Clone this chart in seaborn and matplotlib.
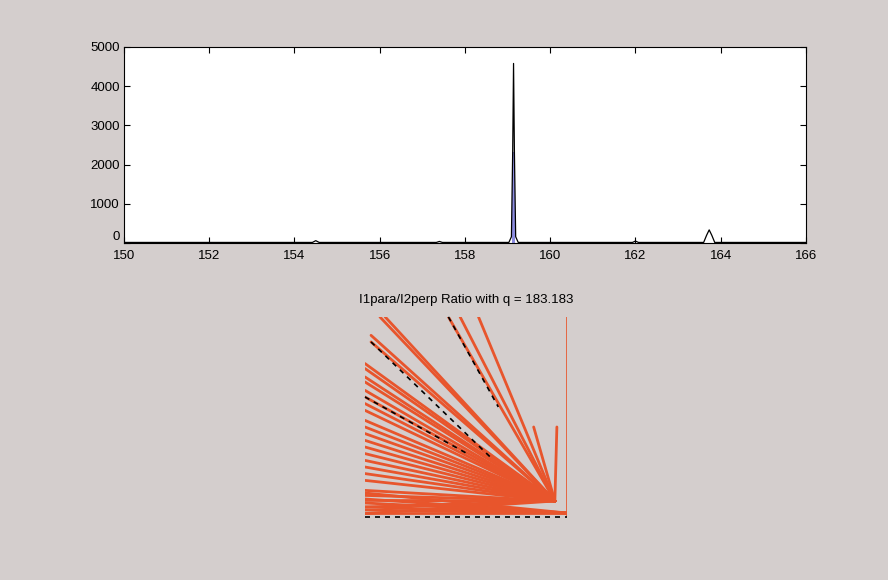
import numpy as np
import pandas as pd
import matplotlib
matplotlib.use("Agg")
import matplotlib.pyplot as plt
import seaborn as sns

# ---- data: spectrum (top panel) ----
spec_x = [150.0, 154.42, 154.5, 154.58, 157.33, 157.4, 157.47, 159.03, 159.09,
          159.12, 159.14, 159.16, 159.19, 159.25, 161.93, 162.0, 162.07,
          163.60, 163.67, 163.73, 163.79, 163.86, 166.0]
spec_y = [15, 15, 60, 15, 15, 40, 15, 15, 160,
          2330, 4580, 2330, 160, 15, 15, 50, 15,
          15, 200, 335, 200, 15, 15]
blue_x = [159.10, 159.18]
blue_top = [2330, 2330]

xticks = [150, 152, 154, 156, 158, 160, 162, 164, 166]
yticks = [0, 1000, 2000, 3000, 4000, 5000]

# ---- data: ratio fan (bottom panel), normalised coordinates ----
fan_left_y = [0.908, 0.875, 0.767, 0.742, 0.70, 0.675, 0.633, 0.60, 0.567,
              0.533, 0.483, 0.45, 0.417, 0.383, 0.35, 0.317, 0.283, 0.25,
              0.217, 0.183, 0.133, 0.108, 0.083, 0.05, 0.017]
fan_left_x = [0.03, 0.03, 0.0, 0.0, 0.0, 0.0, 0.0, 0.0, 0.0,
              0.0, 0.0, 0.0, 0.0, 0.0, 0.0, 0.0, 0.0, 0.0,
              0.0, 0.0, 0.0, 0.0, 0.0, 0.0, 0.0]
fan_top_x = [0.074, 0.10, 0.413, 0.471, 0.562, 0.835, 0.95]
fan_top_y = [1.0, 1.0, 1.0, 1.0, 1.0, 0.45, 0.45]
conv_x, conv_y = 0.94, 0.08
bottom_left_y = [0.12, 0.09, 0.07, 0.05, 0.035, 0.02]
bottom_end_x = 1.0
bottom_end_y = 0.02
vert_x = [1.0, 1.0]
vert_y = [0.0, 1.0]
dash_lines = [((0.03, 0.875), (0.62, 0.30)), ((0.0, 0.60), (0.50, 0.32)),
              ((0.0, 0.0), (1.0, 0.0)), ((0.413, 1.0), (0.66, 0.55))]

title_txt = "I1para/I2perp Ratio with q = 183.183"

# ---- build long tables ----
rows = []
uid = 0
for x0, y0 in zip(fan_left_x, fan_left_y):
    rows += [(uid, x0, y0), (uid, conv_x, conv_y)]
    uid += 1
for x0, y0 in zip(fan_top_x, fan_top_y):
    rows += [(uid, x0, y0), (uid, conv_x, conv_y)]
    uid += 1
for y0 in bottom_left_y:
    rows += [(uid, 0.0, y0), (uid, bottom_end_x, bottom_end_y)]
    uid += 1
fan_df = pd.DataFrame(rows, columns=["line", "x", "y"])

spec_df = pd.DataFrame({"x": spec_x, "y": spec_y})

bg = "#d4cecd"
sns.set_theme(style="white")
plt.rcParams["font.family"] = ["Liberation Sans", "DejaVu Sans"]

fig = plt.figure(figsize=(8.88, 5.8), dpi=100, facecolor=bg)

# top axes
ax1 = fig.add_axes([0.1396, 0.581, 0.768, 0.338])
ax1.set_facecolor("white")
ax1.fill_between(blue_x, 0, blue_top, color="#8c8ce0", lw=0)
sns.lineplot(data=spec_df, x="x", y="y", ax=ax1, color="black", lw=0.9,
             estimator=None, sort=False)
ax1.set_xlim(150, 166)
ax1.set_ylim(0, 5000)
ax1.set_xticks(xticks)
ax1.set_yticks(yticks)
ax1.set_xticklabels([str(t) for t in xticks])
ax1.set_yticklabels([str(t) for t in yticks])
ax1.set_xlabel("")
ax1.set_ylabel("")
ax1.tick_params(direction="in", length=4, width=0.8, top=True, right=True,
                bottom=True, left=True, labelsize=9.5, colors="black")
ax1.tick_params(axis="x", pad=5)
ax1.tick_params(axis="y", pad=3)
for lab in ax1.get_yticklabels():
    if lab.get_text() == "0":
        lab.set_verticalalignment("bottom")
for s in ax1.spines.values():
    s.set_color("black")
    s.set_linewidth(0.8)

# bottom fan axes
ax2 = fig.add_axes([0.411, 0.1086, 0.2275, 0.345])
ax2.set_facecolor(bg)
sns.lineplot(data=fan_df, x="x", y="y", units="line", estimator=None,
             ax=ax2, color="#e8552c", lw=2.0, sort=False, legend=False)
ax2.plot(vert_x, vert_y, color="#e8552c", lw=1.2)
for (p0, p1) in dash_lines:
    ax2.plot([p0[0], p1[0]], [p0[1], p1[1]], color="black", lw=1.2,
             ls=(0, (3, 3)), zorder=5, clip_on=False)
ax2.set_xlim(0, 1.0)
ax2.set_ylim(0, 1.0)
ax2.axis("off")
ax2.set_title(title_txt, fontsize=9.5, pad=10, color="black")

fig.savefig("out.png", dpi=100, facecolor=bg)
